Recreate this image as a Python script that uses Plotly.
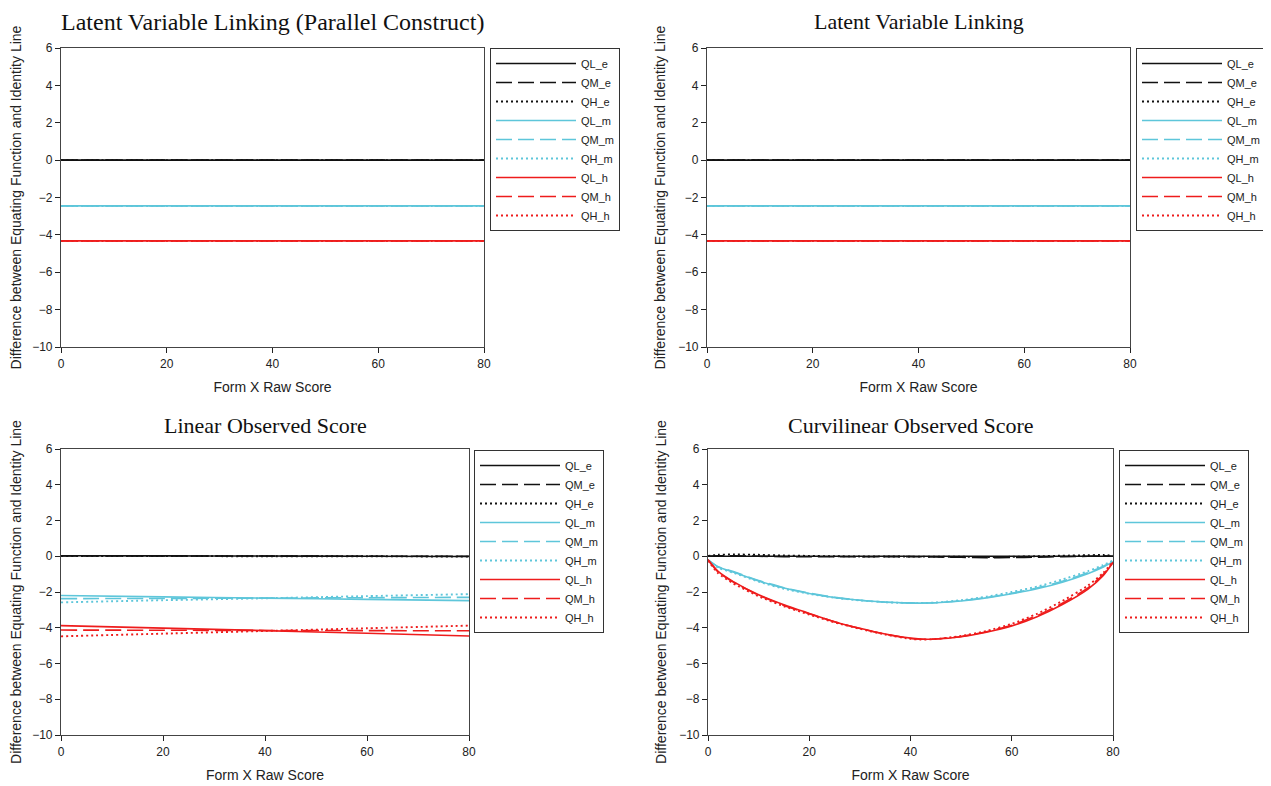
import plotly.graph_objects as go

# ---------------- data ----------------
series_names = ["QL_e", "QM_e", "QH_e", "QL_m", "QM_m", "QH_m", "QL_h", "QM_h", "QH_h"]
panel_titles = ["Latent Variable Linking (Parallel Construct)", "Latent Variable Linking",
                "Linear Observed Score", "Curvilinear Observed Score"]

# Panels 1 & 2 : latent variable linking (flat lines)
x_flat = [0, 10, 20, 30, 40, 50, 60, 70, 80]
p1_QL_e = [0.0] * 9
p1_QM_e = [0.0] * 9
p1_QH_e = [0.0] * 9
p1_QL_m = [-2.45] * 9
p1_QM_m = [-2.45] * 9
p1_QH_m = [-2.46] * 9
p1_QL_h = [-4.32] * 9
p1_QM_h = [-4.32] * 9
p1_QH_h = [-4.33] * 9

p2_QL_e = [0.0] * 9
p2_QM_e = [0.0] * 9
p2_QH_e = [0.0] * 9
p2_QL_m = [-2.45] * 9
p2_QM_m = [-2.45] * 9
p2_QH_m = [-2.46] * 9
p2_QL_h = [-4.32] * 9
p2_QM_h = [-4.32] * 9
p2_QH_h = [-4.33] * 9

# Panel 3 : linear observed score
x_lin = [0, 20, 40, 60, 80]
p3_QL_e = [0.03, 0.02, 0.01, 0.0, -0.01]
p3_QM_e = [0.02, 0.02, 0.01, 0.0, 0.0]
p3_QH_e = [0.01, 0.01, 0.0, 0.0, -0.02]
p3_QL_m = [-2.2, -2.27, -2.34, -2.41, -2.48]
p3_QM_m = [-2.37, -2.36, -2.34, -2.32, -2.3]
p3_QH_m = [-2.58, -2.46, -2.35, -2.23, -2.12]
p3_QL_h = [-3.88, -4.02, -4.16, -4.31, -4.46]
p3_QM_h = [-4.13, -4.14, -4.15, -4.16, -4.17]
p3_QH_h = [-4.48, -4.33, -4.18, -4.03, -3.88]

# Panel 4 : curvilinear observed score
x_cur = [0, 2, 5, 10, 15, 20, 25, 30, 35, 40, 42, 45, 50, 55, 60, 65, 70, 75, 78, 80]
p4_QL_e = [0.0, 0.0, 0.0, 0.0, 0.0, 0.0, 0.0, 0.0, 0.0, 0.0, 0.0, 0.0, 0.0, 0.0, 0.0, 0.0, 0.0, 0.0, 0.0, 0.0]
p4_QM_e = [0.0, 0.02, 0.02, 0.0, -0.02, -0.03, -0.03, -0.03, -0.02, -0.02, -0.03, -0.04, -0.06, -0.08, -0.07, -0.05, -0.02, 0.0, 0.02, 0.0]
p4_QH_e = [0.02, 0.08, 0.1, 0.08, 0.04, 0.02, 0.0, -0.01, -0.01, -0.02, -0.02, -0.02, -0.03, -0.04, -0.03, 0.0, 0.03, 0.06, 0.07, 0.04]
p4_QL_m = [-0.2, -0.6, -0.88, -1.38, -1.78, -2.08, -2.31, -2.46, -2.56, -2.61, -2.62, -2.6, -2.5, -2.33, -2.1, -1.82, -1.45, -0.98, -0.62, -0.3]
p4_QM_m = [-0.2, -0.58, -0.86, -1.36, -1.76, -2.06, -2.3, -2.46, -2.57, -2.62, -2.62, -2.6, -2.49, -2.31, -2.07, -1.78, -1.4, -0.93, -0.57, -0.28]
p4_QH_m = [-0.22, -0.64, -0.92, -1.42, -1.82, -2.1, -2.32, -2.47, -2.57, -2.62, -2.62, -2.59, -2.46, -2.26, -2.0, -1.7, -1.3, -0.84, -0.5, -0.24]
p4_QL_h = [-0.2, -0.85, -1.42, -2.15, -2.72, -3.2, -3.66, -4.03, -4.35, -4.58, -4.63, -4.63, -4.5, -4.25, -3.9, -3.38, -2.7, -1.85, -1.1, -0.35]
p4_QM_h = [-0.2, -0.88, -1.45, -2.18, -2.75, -3.22, -3.67, -4.04, -4.36, -4.6, -4.64, -4.63, -4.49, -4.22, -3.86, -3.32, -2.63, -1.78, -1.04, -0.33]
p4_QH_h = [-0.24, -0.95, -1.52, -2.24, -2.8, -3.26, -3.7, -4.06, -4.38, -4.62, -4.66, -4.63, -4.46, -4.18, -3.78, -3.22, -2.5, -1.65, -0.95, -0.3]

y_ticks = [6, 4, 2, 0, -2, -4, -6, -8, -10]
x_ticks = [0, 20, 40, 60, 80]
x_title = "Form X Raw Score"
y_title = "Difference between Equating Function and Identity Line"

panels = [
    (x_flat, [p1_QL_e, p1_QM_e, p1_QH_e, p1_QL_m, p1_QM_m, p1_QH_m, p1_QL_h, p1_QM_h, p1_QH_h]),
    (x_flat, [p2_QL_e, p2_QM_e, p2_QH_e, p2_QL_m, p2_QM_m, p2_QH_m, p2_QL_h, p2_QM_h, p2_QH_h]),
    (x_lin, [p3_QL_e, p3_QM_e, p3_QH_e, p3_QL_m, p3_QM_m, p3_QH_m, p3_QL_h, p3_QM_h, p3_QH_h]),
    (x_cur, [p4_QL_e, p4_QM_e, p4_QH_e, p4_QL_m, p4_QM_m, p4_QH_m, p4_QL_h, p4_QM_h, p4_QH_h]),
]

# ---------------- styles ----------------
OFF = 8                      # page body margin of the html page
W, H = 1271 - OFF, 786 - OFF
colors = ["#111111"] * 3 + ["#5EC6DA"] * 3 + ["#EE1C1C"] * 3
dashes = ["solid", "16px,6px", "2px,3px"] * 3
widths = [1.6, 1.6, 1.9] * 3

# window pixel boxes of plot areas (left, right, top, bottom) and legend anchors
plot_px = [(61, 484, 48, 347), (707, 1130, 48, 347), (61, 469, 449, 735), (708, 1113, 449, 735)]
legend_px = [(490, 48), (1136, 48), (474, 450), (1119, 450)]
title_py = [None, None, 425, 425]   # None -> anchored at top of page
title_size = [24, 22, 22, 22]

SANS = "Liberation Sans, Arial"
fig = go.Figure()
axis_common = dict(
    showgrid=False, zeroline=False, showline=True, linecolor="#444444", linewidth=1.2,
    mirror=True, ticks="outside", ticklen=5, tickcolor="#222222",
    tickfont=dict(family=SANS, size=12, color="#222222"),
)

def px_x(v):
    return (v - OFF) / W

def px_y(v):
    return 1 - (v - OFF) / H

for i, (xs, ys_list) in enumerate(panels):
    n = "" if i == 0 else str(i + 1)
    leg = "legend" if i == 0 else "legend" + str(i + 1)
    for name, ys, c, d, w in zip(series_names, ys_list, colors, dashes, widths):
        fig.add_trace(go.Scatter(
            x=xs, y=ys, name=name, mode="lines",
            line=dict(color=c, dash=d, width=w, shape="spline", smoothing=0.6),
            xaxis="x" + n, yaxis="y" + n, legend=leg, showlegend=True,
        ))
    l, r, t, b = plot_px[i]
    fig.update_layout({
        "xaxis" + n: dict(axis_common, domain=[px_x(l), px_x(r)], range=[0, 80], tickvals=x_ticks,
                          anchor="y" + n,
                          title=dict(text=x_title, standoff=12,
                                     font=dict(family=SANS, size=14, color="#222222"))),
        "yaxis" + n: dict(axis_common, domain=[px_y(b), px_y(t)], range=[-10, 6], tickvals=y_ticks,
                          anchor="x" + n,
                          title=dict(text=y_title, standoff=9,
                                     font=dict(family=SANS, size=14, color="#222222"))),
        leg: dict(x=px_x(legend_px[i][0]), y=px_y(legend_px[i][1]), xanchor="left", yanchor="top",
                  bordercolor="#333333", borderwidth=1, bgcolor="white", itemwidth=80,
                  font=dict(family=SANS, size=11, color="#222222"),
                  tracegroupgap=0),
    })
    if title_py[i] is None:
        ty, yanchor = 1.0, "top"
    else:
        ty, yanchor = px_y(title_py[i]), "middle"
    fig.add_annotation(
        text=panel_titles[i], xref="paper", yref="paper", x=px_x((l + r) / 2), y=ty,
        xanchor="center", yanchor=yanchor, showarrow=False, borderpad=0,
        font=dict(family="Liberation Serif, Times New Roman", size=title_size[i], color="#111111"),
    )

fig.update_layout(
    width=W, height=H, margin=dict(l=0, r=0, t=0, b=0, autoexpand=False),
    paper_bgcolor="white", plot_bgcolor="white", showlegend=True,
)

fig.write_html("out.html")
